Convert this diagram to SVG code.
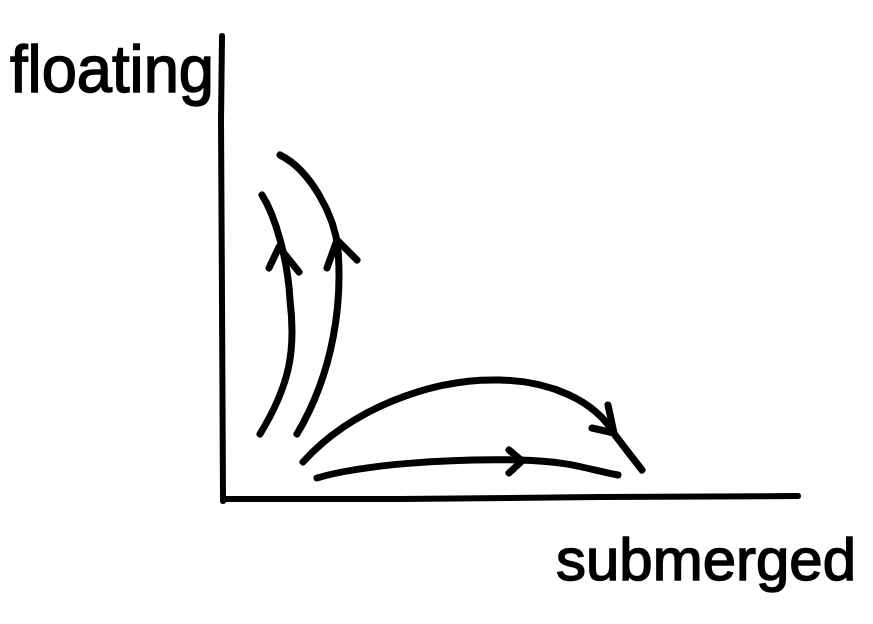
<svg xmlns="http://www.w3.org/2000/svg" width="873" height="624" viewBox="0 0 873 624">
<style>
.ln{fill:none;stroke:#000;stroke-width:7;stroke-linecap:round;stroke-linejoin:round}
.ax{fill:none;stroke:#000;stroke-width:6;stroke-linecap:round;stroke-linejoin:round}
.lbl{font-family:"Liberation Sans",Arial,sans-serif;fill:#000;stroke:#000;stroke-width:1.5}
</style>
<rect width="873" height="624" fill="#fff"/>
<g id="axes">
<path class="ax" d="M222,36 L221,120 L222,300 L223,501"/>
<path class="ax" d="M223,499 L400,499 L600,497 L798,496"/>
</g>
<g id="label-floating">
<text class="lbl" x="10" y="92" font-size="66" textLength="204" lengthAdjust="spacingAndGlyphs">floating</text>
</g>
<g id="label-submerged">
<text class="lbl" x="556" y="580" font-size="60" textLength="300" lengthAdjust="spacingAndGlyphs">submerged</text>
</g>
<g id="connectors">
<path class="ln" d="M262,195 C275,215 288,260 290,300 C296,350 290,385 260,434"/>
<path class="ln" d="M269,268 L279,247 L299,272"/>
<path class="ln" d="M280,155 C310,170 335,215 338,250 C342,300 335,370 297,434"/>
<path class="ln" d="M327,268 L337,240 L357,260"/>
<path class="ln" d="M303,462 C350,410 430,378 500,380 C550,381 595,400 615,435 Q628,452 642,470"/>
<path class="ln" d="M608,405 L614,433 L592,428"/>
<path class="ln" d="M317,478 C360,465 450,458 520,460 C570,461 590,470 618,475"/>
<path class="ln" d="M509,450 L522,461 L509,473"/>
</g>
</svg>
